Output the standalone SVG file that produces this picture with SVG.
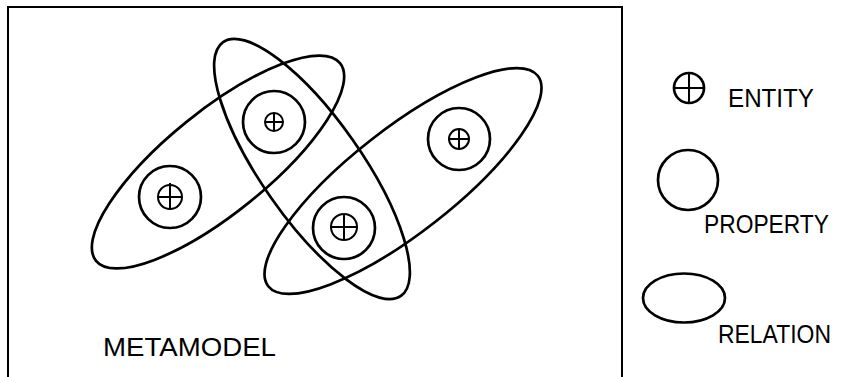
<svg xmlns="http://www.w3.org/2000/svg" width="845" height="377" viewBox="0 0 845 377">
<style>
.ln{fill:none;stroke:#000;stroke-width:2.7}
.fr{fill:none;stroke:#000;stroke-width:2}
.en{fill:none;stroke:#000;stroke-width:2}
.tx{font-family:"Liberation Sans",Arial,sans-serif;font-size:26px;fill:#000}
</style>
<rect width="845" height="377" fill="#fff"/>
<g id="frame"><path class="fr" d="M8,377 V7 H622 V377"/></g>
<g id="relation-left"><ellipse class="ln" cx="218" cy="162" rx="157" ry="51" transform="rotate(-39 218 162)"/></g>
<g id="relation-middle"><ellipse class="ln" cx="312" cy="169" rx="155" ry="50" transform="rotate(55 312 169)"/></g>
<g id="relation-right"><ellipse class="ln" cx="403" cy="181" rx="171" ry="52" transform="rotate(-38 403 181)"/></g>
<g id="property-1"><circle class="ln" cx="170" cy="197" r="31"/><circle class="en" cx="170" cy="197" r="12"/><path class="en" d="M170,183 V209 M158,197 H182"/></g>
<g id="property-2"><circle class="ln" cx="274" cy="122" r="31"/><circle class="en" cx="274" cy="122" r="9"/><path class="en" d="M274,113 V131 M265,122 H283"/></g>
<g id="property-3"><circle class="ln" cx="344" cy="228" r="31"/><circle class="en" cx="344" cy="227" r="13"/><path class="en" d="M344,214 V240 M331,227 H357"/></g>
<g id="property-4"><circle class="ln" cx="459" cy="139" r="31"/><circle class="en" cx="459" cy="139" r="10"/><path class="en" d="M459,129 V149 M449,139 H469"/></g>
<g id="metamodel-label"><text class="tx" x="103" y="356" font-size="30" textLength="173" lengthAdjust="spacingAndGlyphs">METAMODEL</text></g>
<g id="legend-entity"><circle class="ln" cx="689" cy="88" r="15"/><path class="en" d="M689,73 V103 M674,88 H704"/><text class="tx" x="728" y="107" textLength="86" lengthAdjust="spacingAndGlyphs">ENTITY</text></g>
<g id="legend-property"><circle class="ln" cx="688" cy="180" r="30"/><text class="tx" x="704" y="233" textLength="125" lengthAdjust="spacingAndGlyphs">PROPERTY</text></g>
<g id="legend-relation"><ellipse class="ln" cx="684" cy="298" rx="41" ry="24.5"/><text class="tx" x="718" y="343" textLength="113" lengthAdjust="spacingAndGlyphs">RELATION</text></g>
</svg>
